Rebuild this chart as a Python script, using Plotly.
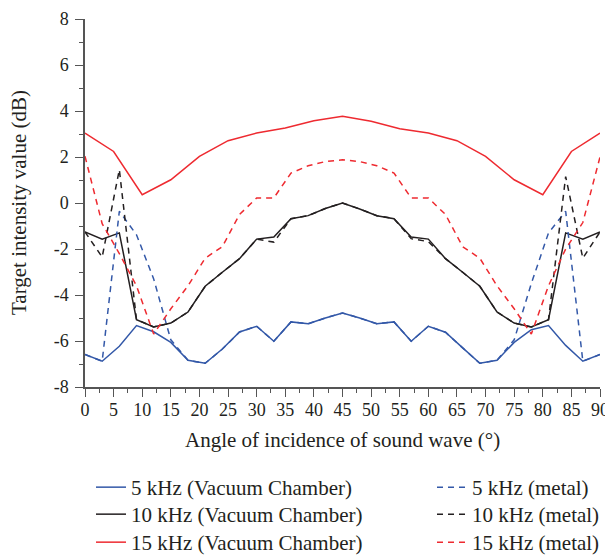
import plotly.graph_objects as go

# Angles (degrees)
angles_3 = [0, 3, 6, 9, 12, 15, 18, 21, 24, 27, 30, 33, 36, 39, 42, 45,
            48, 51, 54, 57, 60, 63, 66, 69, 72, 75, 78, 81, 84, 87, 90]
angles_5 = [0, 5, 10, 15, 20, 25, 30, 35, 40, 45, 50, 55, 60, 65, 70, 75, 80, 85, 90]

# 5 kHz (Vacuum Chamber)
vac_5k = [-6.59, -6.88, -6.23, -5.33, -5.6, -6.06, -6.84, -6.97, -6.35, -5.61, -5.36,
          -6.01, -5.17, -5.25, -5.0, -4.78, -5.0, -5.25, -5.17, -6.01, -5.36, -5.62,
          -6.3, -6.97, -6.84, -6.06, -5.51, -5.33, -6.19, -6.88, -6.59]
# 10 kHz (Vacuum Chamber)
vac_10k = [-1.26, -1.57, -1.30, -5.07, -5.39, -5.22, -4.74, -3.62, -3.01, -2.42, -1.57,
           -1.48, -0.68, -0.55, -0.24, 0.0, -0.26, -0.55, -0.68, -1.48, -1.57, -2.42,
           -3.01, -3.62, -4.74, -5.22, -5.39, -5.07, -1.30, -1.57, -1.26]
# 15 kHz (Vacuum Chamber)
vac_15k = [3.04, 2.24, 0.36, 1.01, 2.03, 2.71, 3.04, 3.26, 3.58, 3.77,
           3.55, 3.23, 3.04, 2.71, 2.03, 1.01, 0.36, 2.24, 3.04]

# 5 kHz (metal)
met_5k = [-6.59, -6.88, -0.36, -1.38, -3.3, -5.95, -6.84, -6.97, -6.35, -5.61, -5.36,
          -6.01, -5.17, -5.25, -5.0, -4.78, -5.0, -5.25, -5.17, -6.01, -5.36, -5.62,
          -6.3, -6.97, -6.84, -5.95, -3.5, -1.3, -0.36, -6.88, -6.59]
# 10 kHz (metal)
met_10k = [-1.26, -2.35, 1.45, -5.07, -5.39, -5.22, -4.74, -3.62, -3.01, -2.42, -1.57,
           -1.7, -0.68, -0.55, -0.24, 0.0, -0.26, -0.55, -0.68, -1.55, -1.68, -2.42,
           -3.01, -3.62, -4.74, -5.22, -5.39, -5.07, 1.15, -2.4, -1.26]
# 15 kHz (metal)
met_15k = [2.03, -0.9, -2.2, -3.6, -5.7, -4.6, -3.6, -2.4, -1.9, -0.5, 0.22,
           0.22, 1.3, 1.62, 1.8, 1.88, 1.8, 1.62, 1.3, 0.22, 0.22, -0.5,
           -1.9, -2.4, -3.6, -4.6, -5.7, -3.6, -2.0, -0.85, 2.0]

x_ticks = [0, 5, 10, 15, 20, 25, 30, 35, 40, 45, 50, 55, 60, 65, 70, 75, 80, 85, 90]
y_ticks = [-8, -6, -4, -2, 0, 2, 4, 6, 8]

BLUE = "#3358a8"
BLACK = "#231f20"
RED = "#ee2a30"
FONT = "Liberation Serif"
TEXT = "#231f20"
DASH = "6px,5px"

# The page body has an 8px default margin, so the figure is 8px smaller
OFF = 8
W, H = 613 - OFF, 558 - OFF
ML, MR, MT, MB = 85 - OFF, 13, 19 - OFF, 171
PW, PH = W - ML - MR, H - MT - MB

fig = go.Figure()

series = [
    (angles_3, vac_5k, "5 kHz (Vacuum Chamber)", BLUE, "solid"),
    (angles_3, vac_10k, "10 kHz (Vacuum Chamber)", BLACK, "solid"),
    (angles_5, vac_15k, "15 kHz (Vacuum Chamber)", RED, "solid"),
    (angles_3, met_5k, "5 kHz (metal)", BLUE, DASH),
    (angles_3, met_10k, "10 kHz (metal)", BLACK, DASH),
    (angles_3, met_15k, "15 kHz (metal)", RED, DASH),
]
legend_names = ["legend", "legend2", "legend3", "legend4", "legend5", "legend6"]
for (xs, ys, name, color, dash), lg in zip(series, legend_names):
    fig.add_trace(go.Scatter(
        x=xs, y=ys, name=name, mode="lines",
        line=dict(color=color, width=1.5, dash=dash),
        legend=lg,
    ))

axis_common = dict(
    showgrid=False, zeroline=False, showline=True,
    linecolor="#555555", linewidth=1.5,
    ticks="outside", ticklen=8, tickwidth=1.2, tickcolor="#555555",
    tickfont=dict(family=FONT, size=18, color=TEXT),
    automargin=False,
)

# legend placement (figure pixels): (left, top)
leg_left = [83, 83, 83, 424, 424, 424]
leg_top = [459, 486, 514, 459, 486, 514]
legends = {}
for lg, lx, ty in zip(legend_names, leg_left, leg_top):
    legends[lg] = dict(
        xref="container", yref="container",
        x=lx / W, y=1 - ty / H, xanchor="left", yanchor="top",
        font=dict(family=FONT, size=21, color=TEXT), bgcolor="rgba(0,0,0,0)",
    )

xtitle_y = 440 - OFF
ytitle_x = 19 - OFF

fig.update_layout(
    width=W, height=H,
    paper_bgcolor="white", plot_bgcolor="white",
    margin=dict(l=ML, r=MR, t=MT, b=MB, autoexpand=False),
    font=dict(family=FONT, size=18, color=TEXT),
    xaxis=dict(
        range=[0, 90], tickvals=x_ticks,
        minor=dict(dtick=2.5, ticks="outside", ticklen=4, tickcolor="#555555", tickwidth=1.2),
        ticklabelstandoff=-2,
        **axis_common,
    ),
    yaxis=dict(
        range=[-8, 8], tickvals=y_ticks,
        ticktext=[str(v) for v in y_ticks],
        minor=dict(dtick=1, ticks="outside", ticklen=4, tickcolor="#555555", tickwidth=1.2),
        ticklabelstandoff=3,
        **axis_common,
    ),
    annotations=[
        dict(text="Angle of incidence of sound wave (°)", xref="paper", yref="paper",
             x=0.5, y=(H - MB - xtitle_y) / PH, xanchor="center", yanchor="middle",
             showarrow=False, font=dict(family=FONT, size=21, color=TEXT)),
        dict(text="Target intensity value (dB)", xref="paper", yref="paper",
             x=(ytitle_x - ML) / PW, y=0.5, xanchor="center", yanchor="middle",
             showarrow=False, textangle=-90, font=dict(family=FONT, size=21, color=TEXT)),
    ],
    showlegend=True,
    **legends,
)

fig.write_html("out.html")
